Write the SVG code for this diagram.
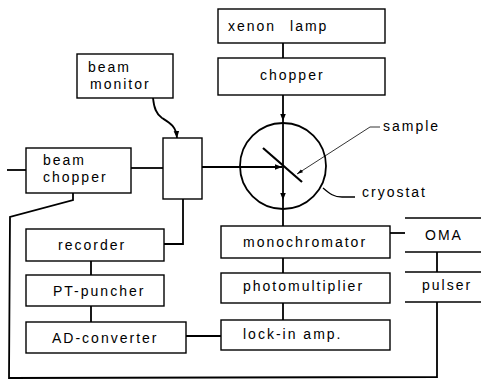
<svg xmlns="http://www.w3.org/2000/svg" width="481" height="381" viewBox="0 0 481 381">
<defs>
<marker id="ah" viewBox="0 0 10 10" refX="10" refY="5" markerWidth="7" markerHeight="7" markerUnits="userSpaceOnUse" orient="auto"><path d="M0,1 L10,5 L0,9 Z" fill="#000"/></marker>
<marker id="ahs" viewBox="0 0 10 10" refX="10" refY="5" markerWidth="6" markerHeight="6" markerUnits="userSpaceOnUse" orient="auto"><path d="M0,2 L10,5 L0,8 Z" fill="#000"/></marker>
</defs>
<style>
.box{fill:#fff;stroke:#000;stroke-width:1.4}
.ln{fill:none;stroke:#000;stroke-width:1.8}
.thin{fill:none;stroke:#000;stroke-width:0.8}
text{font-family:"Liberation Sans",Arial,sans-serif;font-size:14px;letter-spacing:2px;fill:#000}
</style>
<rect width="481" height="381" fill="#fff"/>
<g id="connectors">
<line class="ln" x1="283" y1="43" x2="283" y2="58"/>
<line class="ln" x1="283" y1="95" x2="283" y2="121" marker-end="url(#ah)"/>
<line class="ln" x1="283" y1="121" x2="283" y2="200" marker-end="url(#ah)"/>
<line class="ln" x1="283" y1="200" x2="283" y2="226"/>
<line class="ln" x1="202" y1="167" x2="282" y2="167" marker-end="url(#ah)"/>
<line class="ln" x1="7" y1="170" x2="26" y2="170"/>
<line class="ln" x1="131" y1="168" x2="163" y2="168"/>
<path class="ln" d="M153,98 C154,108 156,114 162,118 C170,123 176,126 177,138" marker-end="url(#ah)"/>
<path class="ln" d="M183,199 L183,244 L164,244"/>
<line class="ln" x1="91" y1="261" x2="91" y2="275"/>
<line class="ln" x1="91" y1="306" x2="91" y2="322"/>
<line class="ln" x1="186" y1="336" x2="221" y2="336"/>
<line class="ln" x1="283" y1="258" x2="283" y2="273"/>
<line class="ln" x1="283" y1="303" x2="283" y2="320"/>
<line class="ln" x1="390" y1="233" x2="405" y2="233"/>
<line class="ln" x1="437" y1="252" x2="437" y2="272"/>
<path class="ln" d="M73,193 L73,200 L10,217 L9,378 L437,377 L437,302"/>
<path class="thin" d="M380,127 L370,127 L297,174" marker-end="url(#ahs)"/>
<path class="ln" style="stroke-width:1.3" d="M323,188 C330,194 334,197 342,197 L355,197"/>
</g>
<g id="xenon-lamp"><rect class="box" x="218" y="9" width="167" height="34"/><text x="228" y="31" word-spacing="8">xenon lamp</text></g>
<g id="chopper"><rect class="box" x="218" y="58" width="167" height="37"/><text x="260" y="80">chopper</text></g>
<g id="cryostat"><circle cx="283" cy="166" r="43" fill="none" stroke="#000" stroke-width="1.8"/><line x1="263" y1="148" x2="302" y2="182" stroke="#000" stroke-width="2.2"/><text x="362" y="197">cryostat</text></g>
<g id="sample"><text x="383" y="131">sample</text></g>
<g id="beam-monitor"><rect class="box" x="77" y="54" width="96" height="44"/><text x="88" y="72">beam</text><text x="90" y="89">monitor</text></g>
<g id="beam-chopper"><rect class="box" x="26" y="148" width="105" height="45"/><text x="43" y="165">beam</text><text x="43" y="182">chopper</text></g>
<g id="junction"><rect class="box" x="163" y="138" width="39" height="61"/></g>
<g id="recorder"><rect class="box" x="26" y="229" width="138" height="32"/><text x="58" y="250">recorder</text></g>
<g id="pt-puncher"><rect class="box" x="26" y="275" width="138" height="31"/><text x="53" y="296">PT-puncher</text></g>
<g id="ad-converter"><rect class="box" x="26" y="322" width="160" height="31"/><text x="52" y="343">AD-converter</text></g>
<g id="monochromator"><rect class="box" x="221" y="226" width="169" height="32"/><text x="243" y="247">monochromator</text></g>
<g id="photomultiplier"><rect class="box" x="221" y="273" width="169" height="30"/><text x="243" y="291">photomultiplier</text></g>
<g id="lock-in"><rect class="box" x="221" y="320" width="169" height="30"/><text x="243" y="339">lock-in amp.</text></g>
<g id="oma"><line class="ln" style="stroke-width:1.4" x1="405" y1="218" x2="481" y2="218"/><line class="ln" style="stroke-width:1.4" x1="405" y1="252" x2="481" y2="252"/><text x="425" y="240">OMA</text></g>
<g id="pulser"><line class="ln" style="stroke-width:1.4" x1="405" y1="272" x2="481" y2="272"/><line class="ln" style="stroke-width:1.4" x1="405" y1="302" x2="481" y2="302"/><text x="422" y="290">pulser</text></g>
</svg>
